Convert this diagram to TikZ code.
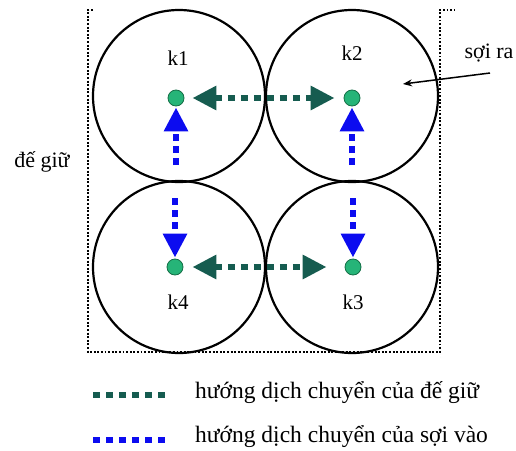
\documentclass[tikz,border=0pt]{standalone}
\usepackage{fontspec}
\setmainfont{Liberation Serif}
\usetikzlibrary{arrows.meta}
\definecolor{hdgreen}{RGB}{22,92,80}
\definecolor{dotgreen}{RGB}{38,180,120}
\definecolor{dotedge}{RGB}{20,110,70}
\definecolor{myblue}{RGB}{12,12,240}
\tikzset{
  roll/.style={circle,draw=black,line width=2.2pt,minimum size=172pt,inner sep=0pt},
  posdot/.style={circle,fill=dotgreen,draw=dotedge,line width=0.8pt,minimum size=16pt,inner sep=0pt},
  frame/.style={line width=1.7pt,dash pattern=on 1.9pt off 1.7pt},
  gline/.style={hdgreen,line width=6pt,dash pattern=on 7pt off 6pt},
  bline/.style={myblue,line width=6pt,dash pattern=on 7pt off 5pt},
  garrow/.style={gline,{Triangle[length=24pt,width=23pt]}-{Triangle[length=24pt,width=23pt]}},
  barrow/.style={bline,-{Triangle[length=24pt,width=23pt]}},
  lbl/.style={font=\fontsize{21}{23}\selectfont,inner sep=0pt},
  sidetxt/.style={font=\fontsize{22}{24}\selectfont,inner sep=0pt},
  legtxt/.style={font=\fontsize{23.5}{26}\selectfont,anchor=west,inner sep=0pt}
}
\begin{document}
\begin{tikzpicture}[x=1pt,y=-1pt]
\useasboundingbox (0,0) rectangle (516,450);
% dotted holder frame
\draw[frame] (93,10) -- (88,10) -- (88,352) -- (440,352) -- (440,10) -- (455,10);
% rolls
\node[roll] (c1) at (179,96) {};
\node[roll] (c2) at (352,96) {};
\node[roll] (c4) at (179,267) {};
\node[roll] (c3) at (352,267) {};
% positions
\node[posdot] (p1) at (176,98) {};
\node[posdot] (p2) at (352,98) {};
\node[posdot] (p4) at (175,267) {};
\node[posdot] (p3) at (353,267) {};
% labels
\node[lbl] (k1) at (178,58) {k1};
\node[lbl] (k2) at (352,53) {k2};
\node[lbl] (k4) at (178,302) {k4};
\node[lbl] (k3) at (353,302) {k3};
% holder movement
\draw[garrow,shorten <=8pt,shorten >=9pt] (p1) -- (p2);
\draw[garrow,shorten <=9pt,shorten >=18pt] (p4) -- (p3);
% yarn movement
\coordinate (t1) at (176,165);
\coordinate (t2) at (352,165);
\coordinate (t4) at (175,198);
\coordinate (t3) at (353,198);
\draw[barrow,shorten >=1pt] (t1) -- (p1);
\draw[barrow,shorten >=1pt] (t2) -- (p2);
\draw[barrow,shorten >=1pt] (t4) -- (p4);
\draw[barrow,shorten >=1pt] (t3) -- (p3);
% yarn out
\node[sidetxt] (sr) at (489,53) {sợi ra};
\coordinate (srt) at (490,73);
\coordinate (srh) at (403,84);
\draw[line width=1.5pt,-{Stealth[length=9pt,width=7pt]}] (srt) -- (srh);
% holder label
\node[sidetxt] (dg) at (42,162) {đế giữ};
% legend
\coordinate (l1a) at (93,395);
\coordinate (l1b) at (168,395);
\coordinate (l2a) at (93,440);
\coordinate (l2b) at (168,440);
\draw[gline] (l1a) -- (l1b);
\draw[bline,dash pattern=on 7pt off 6pt] (l2a) -- (l2b);
\node[legtxt] (lt1) at (195,393) {hướng dịch chuyển của đế giữ};
\node[legtxt] (lt2) at (195,437) {hướng dịch chuyển của sợi vào};
\end{tikzpicture}
\end{document}
